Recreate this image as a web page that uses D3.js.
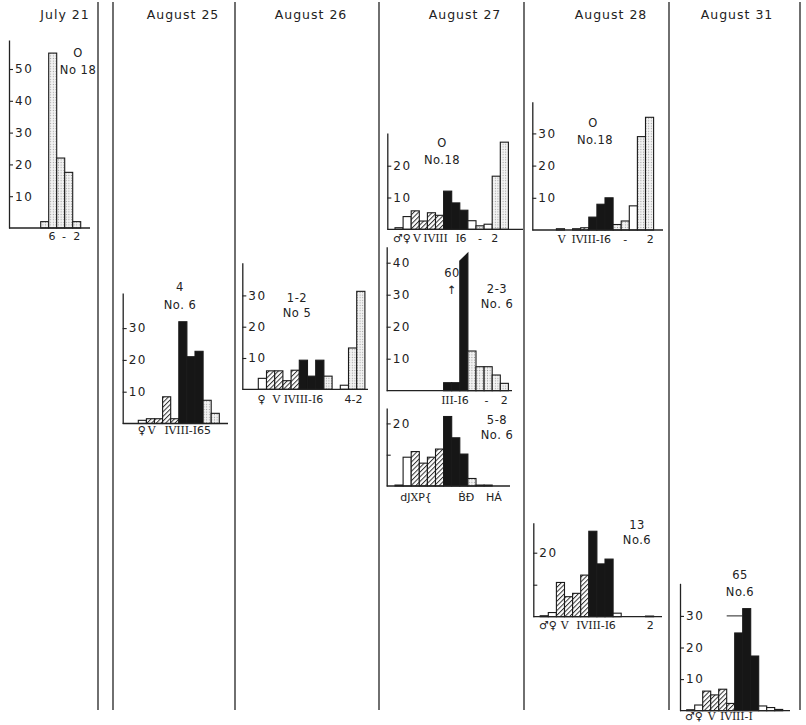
<!DOCTYPE html>
<html><head><meta charset="utf-8">
<script src="https://cdn.jsdelivr.net/npm/d3@7"></script>
<style>
body{margin:0;background:#fff}
svg{display:block}
text{font-family:"DejaVu Sans",sans-serif;fill:#222}
</style>
</head><body>
<svg id="c" width="806" height="725"></svg>
<script>
// ---------- DATA ----------
const headers = ["July 21","August 25","August 26","August 27","August 28","August 31"];

// kinds: w = open, h = hatched, b = black, s = stippled
const jul21Values = [2, 55, 22, 17.5, 2];
const jul21Kinds  = ["s","s","s","s","s"];
const jul21Ticks  = [10, 20, 30, 40, 50];
const jul21TickLabels = ["10","20","30","40","50"];
const jul21Stages = [["6",1.4],["-",2.9],["2",4.5]];
const jul21Notes  = ["O","No 18"];

const aug25Values = [1, 1.5, 1.5, 8.4, 1.5, 32, 21, 22.7, 7.3, 3.2];
const aug25Kinds  = ["w","h","h","h","h","b","b","b","s","s"];
const aug25Ticks  = [10, 20, 30];
const aug25TickLabels = ["10","20","30"];
const aug25Stages = [["♀",0.42],["V",1.65],["IVIII-I65",6.1]];
const aug25Notes  = ["4","No. 6"];

const aug26Values = [3.5, 5.9, 5.9, 2.75, 6.1, 9.3, 4.2, 9.3, 4.2, 0, 1.3, 13.2, 31.3];
const aug26Kinds  = ["w","h","h","h","h","b","b","b","s","w","w","s","s"];
const aug26Ticks  = [10, 20, 30];
const aug26TickLabels = ["10","20","30"];
const aug26Stages = [["♀",0.4],["V",2.2],["IVIII-I6",5.5],["4-2",11.6]];
const aug26Notes  = ["1-2","No 5"];

const aug27aValues = [0.5, 4, 5.8, 2.6, 5.2, 4.4, 12, 8.3, 6, 2.7, 1.1, 1.6, 16.7, 27.4];
const aug27aKinds  = ["w","w","h","h","h","h","b","b","b","w","s","w","s","s"];
const aug27aTicks  = [10, 20];
const aug27aTickLabels = ["10","20"];
const aug27aStages = [["♂♀",0.85],["V",2.7],["IVIII",5.0],["I6",8.15],["-",10.5],["2",12.3]];
const aug27aNotes  = ["O","No.18"];

const aug27bValues = [0, 0, 0, 0, 0, 0, 2.5, 2.5, 60, 12.4, 7.5, 7.5, 4.9, 2.3];
const aug27bKinds  = ["w","w","w","w","w","w","b","b","b","s","s","s","s","s"];
const aug27bTicks  = [10, 20, 30, 40];
const aug27bTickLabels = ["10","20","30","40"];
const aug27bStages = [["III-I6",7.4],["-",11.3],["2",13.5]];
const aug27bNotes  = ["60","↑","2-3","No. 6"];

const aug27cValues = [0.3, 9.2, 11, 7.3, 9.2, 11.8, 22.2, 15.4, 10.2, 2.4, 0.3, 0.3, 0, 0];
const aug27cKinds  = ["w","w","h","h","h","h","b","b","b","s","w","w","w","w"];
const aug27cTicks  = [10, 20];
const aug27cTickLabels = ["","20"];
const aug27cStages = [["dJXP{",2.6],["ḂĐ",8.8],["HÁ",12.2]];
const aug27cNotes  = ["5-8","No. 6"];

const aug28aValues = [0, 0, 0.4, 0, 0.4, 0.7, 4, 8, 10, 1.7, 2.8, 7.5, 29, 35];
const aug28aKinds  = ["w","w","w","w","w","h","b","b","b","s","s","w","s","s"];
const aug28aTicks  = [10, 20, 30];
const aug28aTickLabels = ["10","20","30"];
const aug28aStages = [["V",2.65],["IVIII-I6",6.3],["-",10.5],["2",13.6]];
const aug28aNotes  = ["O","No.18"];

const aug28bValues = [0.3, 1.3, 10.7, 6.25, 7.3, 13, 26.7, 16.5, 18, 1.1, 0, 0, 0, 0.2];
const aug28bKinds  = ["w","w","h","h","h","h","b","b","b","w","w","w","w","w"];
const aug28bTicks  = [10, 20];
const aug28bTickLabels = ["","20"];
const aug28bStages = [["♂♀",0.96],["V",3.0],["IVIII-I6",6.9],["2",13.6]];
const aug28bNotes  = ["13","No.6"];

const aug31Values = [0.3, 1.8, 6.2, 5, 6.8, 2.3, 24.6, 32.3, 17.3, 1.5, 1, 0.4];
const aug31Kinds  = ["w","w","h","h","h","h","b","b","b","w","w","s"];
const aug31Ticks  = [10, 20, 30];
const aug31TickLabels = ["10","20","30"];
const aug31Stages = [["♂♀",0.9],["V",3.1],["IVIII-I",6.2]];
const aug31Notes  = ["65","No.6"];
const aug31Leader = 30;

// ---------- LAYOUT ----------
const columnLines = [98, 113, 235, 379, 524, 669, 800];
const headerX = [65, 183, 311, 465, 611, 737];

const panels = [
  {v:jul21Values,k:jul21Kinds,t:jul21Ticks,tl:jul21TickLabels,st:jul21Stages,n:jul21Notes,
   axisX:9,top:40,base:228,ppu:3.18,start:40.7,bw:8,baseEnd:90,labelY:236,
   notePos:[[78,53],[78,70]]},
  {v:aug25Values,k:aug25Kinds,t:aug25Ticks,tl:aug25TickLabels,st:aug25Stages,n:aug25Notes,
   axisX:122.7,top:293,base:423.5,ppu:3.18,start:138.3,bw:8.1,baseEnd:228,labelY:430,
   notePos:[[180,287],[180,305]]},
  {v:aug26Values,k:aug26Kinds,t:aug26Ticks,tl:aug26TickLabels,st:aug26Stages,n:aug26Notes,
   axisX:242.3,top:262.7,base:389.3,ppu:3.13,start:258.3,bw:8.2,baseEnd:368,labelY:399,
   notePos:[[297,298],[297,313]]},
  {v:aug27aValues,k:aug27aKinds,t:aug27aTicks,tl:aug27aTickLabels,st:aug27aStages,n:aug27aNotes,
   axisX:387.3,top:133,base:229.3,ppu:3.18,start:395,bw:8.1,baseEnd:523,labelY:238,
   notePos:[[442,143],[442,160]]},
  {v:aug27bValues,k:aug27bKinds,t:aug27bTicks,tl:aug27bTickLabels,st:aug27bStages,n:aug27bNotes,
   axisX:386.7,top:246.7,base:390.7,ppu:3.2,start:395,bw:8.1,baseEnd:512,labelY:400,
   notePos:[[452,273],[452,290],[497,289],[497,304]],cap:[40.5,43]},
  {v:aug27cValues,k:aug27cKinds,t:aug27cTicks,tl:aug27cTickLabels,st:aug27cStages,n:aug27cNotes,
   axisX:386.7,top:408,base:486,ppu:3.13,start:395,bw:8.1,baseEnd:510,labelY:497,
   notePos:[[497,420],[497,435]]},
  {v:aug28aValues,k:aug28aKinds,t:aug28aTicks,tl:aug28aTickLabels,st:aug28aStages,n:aug28aNotes,
   axisX:532.3,top:101.7,base:230,ppu:3.22,start:540.2,bw:8.1,baseEnd:663,labelY:238.5,
   notePos:[[593,123],[595,140]]},
  {v:aug28bValues,k:aug28bKinds,t:aug28bTicks,tl:aug28bTickLabels,st:aug28bStages,n:aug28bNotes,
   axisX:533.3,top:522.7,base:616.7,ppu:3.2,start:540.2,bw:8.1,baseEnd:662,labelY:625,
   notePos:[[637,525],[637,540]]},
  {v:aug31Values,k:aug31Kinds,t:aug31Ticks,tl:aug31TickLabels,st:aug31Stages,n:aug31Notes,
   axisX:680,top:583.3,base:710.7,ppu:3.16,start:686.7,bw:8,baseEnd:790,labelY:715.5,
   notePos:[[740,575],[740,592]],leader:{value:aug31Leader,from:5,to:7}}
];

// ---------- DRAW ----------
const svg = d3.select("#c");
svg.append("rect").attr("width",806).attr("height",725).attr("fill","#fff");
const defs = svg.append("defs");
const hp = defs.append("pattern").attr("id","hatch").attr("patternUnits","userSpaceOnUse")
  .attr("width",3.3).attr("height",3.3).attr("patternTransform","rotate(45)");
hp.append("rect").attr("width",3.3).attr("height",3.3).attr("fill","#fff");
hp.append("line").attr("x1",0.5).attr("y1",0).attr("x2",0.5).attr("y2",3.3)
  .attr("stroke","#333").attr("stroke-width",1);
const sp = defs.append("pattern").attr("id","stip").attr("patternUnits","userSpaceOnUse")
  .attr("width",2.6).attr("height",2.6);
sp.append("rect").attr("width",2.6).attr("height",2.6).attr("fill","#f3f3f3");
sp.append("circle").attr("cx",1.3).attr("cy",1.3).attr("r",0.55).attr("fill","#9a9a9a");

const fills = {w:"#fff", h:"url(#hatch)", b:"#161616", s:"url(#stip)"};

// column separators
svg.selectAll("line.col").data(columnLines).join("line").attr("class","col")
  .attr("x1",d=>d).attr("x2",d=>d).attr("y1",2).attr("y2",710)
  .attr("stroke","#333").attr("stroke-width",1.4);

// headers
svg.selectAll("text.hdr").data(headers).join("text").attr("class","hdr")
  .attr("x",(d,i)=>headerX[i]).attr("y",19).attr("text-anchor","middle")
  .attr("font-size",12.5).attr("letter-spacing",1).attr("font-weight","normal")
  .attr("fill","#1e1e1e").text(d=>d);

const isRoman = s => /^[IVX]+$/.test(s);

panels.forEach(p=>{
  const n = p.v.length;
  const x = d3.scaleLinear().domain([0,n]).range([p.start, p.start+n*p.bw]);
  const y = d3.scaleLinear().domain([0,(p.base-p.top)/p.ppu]).range([p.base,p.top]);
  const ymax = y.domain()[1];
  const g = svg.append("g");

  // bars
  p.v.forEach((val,i)=>{
    if(val<=0) return;
    const x0 = x(i), x1 = x(i+1);
    if(val>ymax && p.cap){
      g.append("path")
        .attr("d",`M${x0},${y(0)}V${y(p.cap[0])}L${x1},${y(p.cap[1])}V${y(0)}Z`)
        .attr("fill",fills[p.k[i]]).attr("stroke","#1a1a1a").attr("stroke-width",1.1);
    } else {
      g.append("rect").attr("x",x0).attr("width",x1-x0)
        .attr("y",y(val)).attr("height",y(0)-y(val))
        .attr("fill",fills[p.k[i]]).attr("stroke","#1a1a1a").attr("stroke-width",1.1);
    }
  });

  // leader line
  if(p.leader){
    g.append("line").attr("x1",x(p.leader.from)).attr("x2",x(p.leader.to))
      .attr("y1",y(p.leader.value)).attr("y2",y(p.leader.value))
      .attr("stroke","#222").attr("stroke-width",1);
  }

  // baseline
  g.append("line").attr("x1",p.axisX).attr("x2",p.baseEnd).attr("y1",y(0)).attr("y2",y(0))
    .attr("stroke","#222").attr("stroke-width",1.3);

  // y axis (ticks and labels inside, to the right)
  const ax = g.append("g").attr("transform",`translate(${p.axisX},0)`)
    .call(d3.axisRight(y).tickValues(p.t).tickSize(4).tickSizeOuter(0).tickPadding(2)
      .tickFormat((d,i)=>p.tl[i]));
  ax.select(".domain").attr("stroke","#222").attr("stroke-width",1.3);
  ax.selectAll(".tick line").attr("stroke","#222").attr("stroke-width",1.1);
  ax.selectAll(".tick text").attr("font-family","DejaVu Sans, sans-serif")
    .attr("font-size",12).attr("letter-spacing",1.5).attr("fill","#222");

  // stage labels under the baseline
  const st = g.selectAll("text.stage").data(p.st).join("text").attr("class","stage")
    .attr("x",d=>x(d[1])).attr("y",p.labelY+4).attr("text-anchor","middle")
    .attr("font-size",11).attr("fill","#1a1a1a");
  st.each(function(d){
    const t = d3.select(this);
    d[0].split(/([IVX]+)/).filter(s=>s.length).forEach(part=>{
      t.append("tspan")
        .attr("font-family", isRoman(part) ? "DejaVu Serif, serif" : "DejaVu Sans, sans-serif")
        .attr("letter-spacing", isRoman(part) ? -0.2 : 0)
        .text(part);
    });
  });

  // notes
  g.selectAll("text.note").data(p.n).join("text").attr("class","note")
    .attr("x",(d,i)=>p.notePos[i][0]).attr("y",(d,i)=>p.notePos[i][1]+4)
    .attr("text-anchor","middle").attr("font-size",11.5).attr("letter-spacing",0.5)
    .attr("fill","#222").text(d=>d);
});
</script>
</body></html>
